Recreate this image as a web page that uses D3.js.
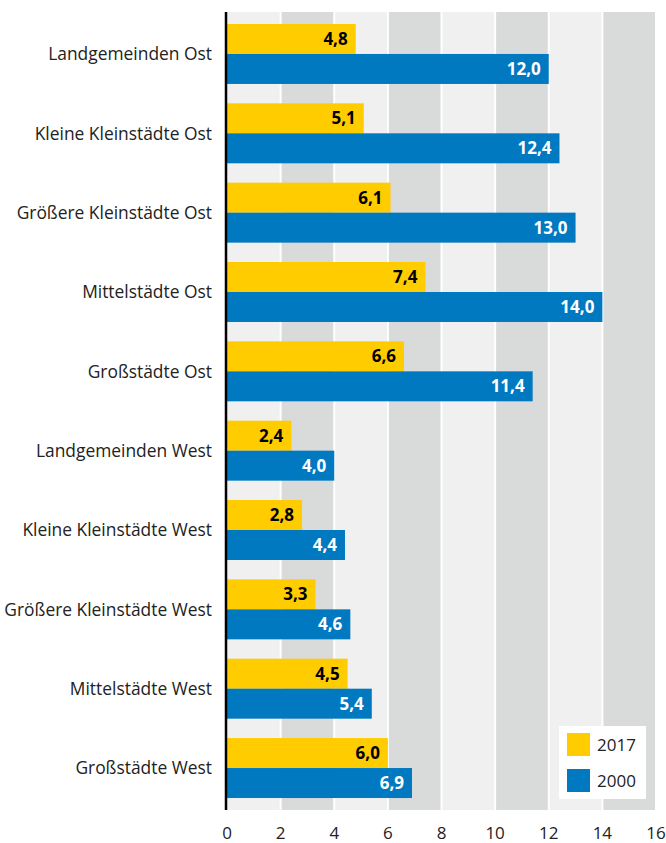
<!DOCTYPE html>
<html>
<head>
<meta charset="utf-8">
<script src="https://cdn.jsdelivr.net/npm/d3@7"></script>
<style>
  body { margin: 0; background: #fff; }
  svg text { font-family: "Open Sans", sans-serif; }
</style>
</head>
<body>
<script>
var categories = [
  "Landgemeinden Ost", "Kleine Kleinstädte Ost", "Größere Kleinstädte Ost",
  "Mittelstädte Ost", "Großstädte Ost", "Landgemeinden West",
  "Kleine Kleinstädte West", "Größere Kleinstädte West", "Mittelstädte West",
  "Großstädte West"
]
var values2017 = [4.8, 5.1, 6.1, 7.4, 6.6, 2.4, 2.8, 3.3, 4.5, 6.0]
var values2000 = [12.0, 12.4, 13.0, 14.0, 11.4, 4.0, 4.4, 4.6, 5.4, 6.9]
var series = ["2017", "2000"]
var ticks = [0, 2, 4, 6, 8, 10, 12, 14, 16]

var colors = { "2017": "#ffcc00", "2000": "#0079c1" }
var width = 666, height = 843
var plotTop = 12, plotBottom = 810, plotLeft = 227, plotRight = 656

var x = d3.scaleLinear().domain([0, 16]).range([plotLeft, plotRight])
var y = d3.scaleBand().domain(categories).range([plotTop, plotBottom])
    .paddingInner(0.244).paddingOuter(0.151)
var ySub = d3.scaleBand().domain(series).range([0, y.bandwidth()])

var svg = d3.select("body").append("svg")
    .attr("width", width).attr("height", height)

// stripes
svg.append("g").selectAll("rect")
  .data(d3.range(0, 16, 2))
  .enter().append("rect")
  .attr("x", function(d) { return d === 0 ? x(d) : x(d) + 1 })
  .attr("width", function(d) { return x(d + 2) - 1 - (d === 0 ? x(d) : x(d) + 1) })
  .attr("y", plotTop)
  .attr("height", plotBottom - plotTop)
  .attr("fill", function(d, i) { return i % 2 === 0 ? "#f0f0f0" : "#d9dada" })

// bars
var rows = categories.map(function(c, i) {
  return { cat: c, vals: [ { s: "2017", v: values2017[i] }, { s: "2000", v: values2000[i] } ] }
})

var g = svg.append("g").selectAll("g")
  .data(rows)
  .enter().append("g")
  .attr("transform", function(d) { return "translate(0," + y(d.cat) + ")" })

g.selectAll("rect")
  .data(function(d) { return d.vals })
  .enter().append("rect")
  .attr("x", x(0))
  .attr("y", function(d) { return ySub(d.s) })
  .attr("width", function(d) { return x(d.v) - x(0) })
  .attr("height", ySub.bandwidth())
  .attr("fill", function(d) { return colors[d.s] })

g.selectAll("text.val")
  .data(function(d) { return d.vals })
  .enter().append("text")
  .attr("class", "val")
  .attr("x", function(d) { return x(d.v) - 8 })
  .attr("y", function(d) { return ySub(d.s) + ySub.bandwidth() / 2 })
  .attr("dy", "0.36em")
  .attr("text-anchor", "end")
  .style("font-size", "17px")
  .style("font-weight", "bold")
  .attr("fill", function(d) { return d.s === "2017" ? "#000" : "#fff" })
  .text(function(d) { return d3.format(".1f")(d.v).replace(".", ",") })

// category labels
svg.append("g").selectAll("text")
  .data(categories)
  .enter().append("text")
  .attr("x", 212)
  .attr("y", function(d) { return y(d) + y.bandwidth() / 2 })
  .attr("dy", "0.36em")
  .attr("text-anchor", "end")
  .style("font-size", "17.4px")
  .attr("fill", "#222")
  .text(function(d) { return d })

// axis line
svg.append("line")
  .attr("x1", 226).attr("x2", 226)
  .attr("y1", plotTop).attr("y2", plotBottom)
  .attr("stroke", "#000").attr("stroke-width", 2.5)

// tick labels
svg.append("g").selectAll("text")
  .data(ticks)
  .enter().append("text")
  .attr("x", function(d) { return x(d) })
  .attr("y", 839)
  .attr("text-anchor", "middle")
  .style("font-size", "17px")
  .attr("fill", "#222")
  .text(function(d) { return d })

// legend
var legend = svg.append("g").attr("transform", "translate(559,726)")
legend.append("rect")
  .attr("width", 87).attr("height", 73).attr("fill", "#fff")
var li = legend.selectAll("g")
  .data(series)
  .enter().append("g")
  .attr("transform", function(d, i) { return "translate(8," + (7 + i * 36) + ")" })
li.append("rect")
  .attr("width", 23).attr("height", 23)
  .attr("fill", function(d) { return colors[d] })
li.append("text")
  .attr("x", 30).attr("y", 12).attr("dy", "0.36em")
  .style("font-size", "17px")
  .attr("fill", "#222")
  .text(function(d) { return d })
</script>
</body>
</html>
